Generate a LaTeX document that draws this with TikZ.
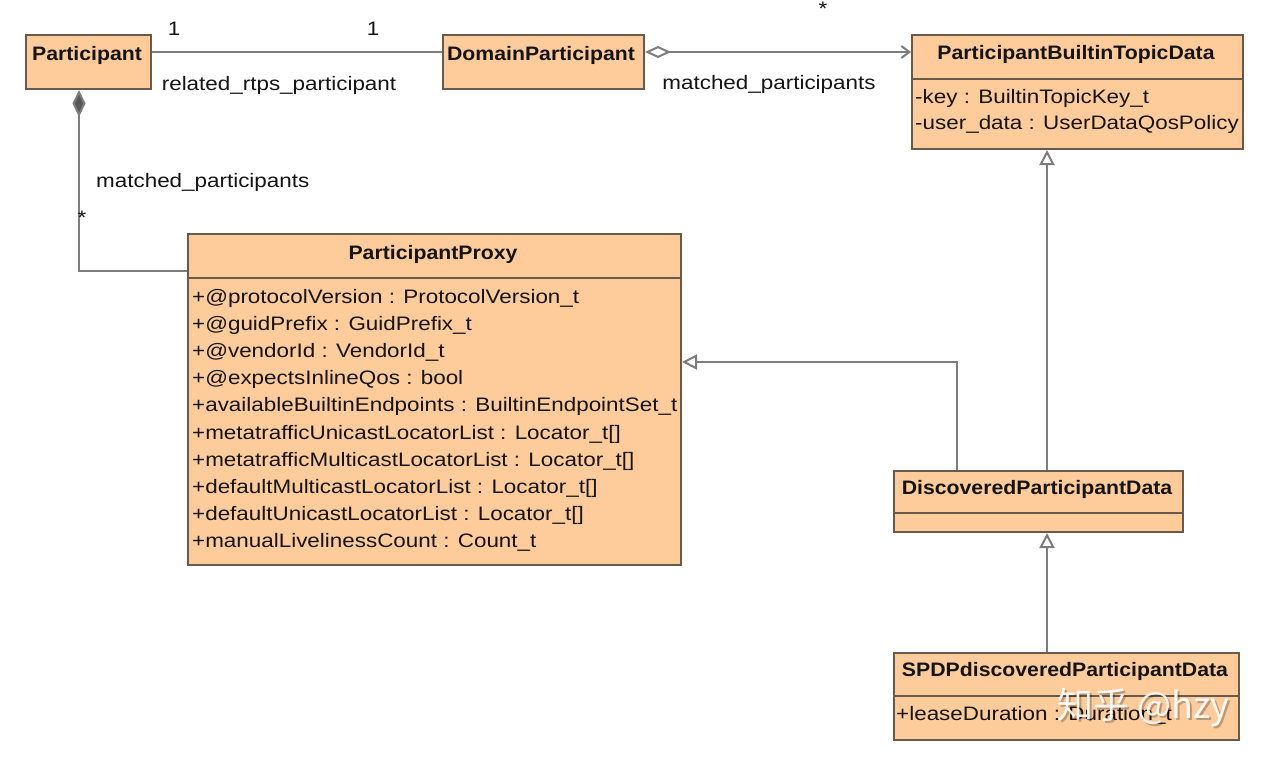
\documentclass[tikz,border=0pt]{standalone}
\usepackage{fontspec}
\setmainfont{Liberation Sans}[FakeStretch=1.15, BoldFeatures={FakeStretch=1.09}]
\newfontfamily\cjk{Noto Sans CJK SC}
\usetikzlibrary{arrows.meta}
\definecolor{peach}{RGB}{254,204,154}
\definecolor{boxline}{RGB}{105,90,78}
\definecolor{linegray}{RGB}{125,125,125}
\definecolor{txt}{RGB}{20,20,20}
\begin{document}
\begin{tikzpicture}[x=1pt,y=-1pt,
  cls/.style={draw=boxline, fill=peach, line width=2pt, inner sep=0pt, anchor=north west},
  sep/.style={draw=boxline, line width=1.2pt},
  ttl/.style={font=\fontsize{19.5}{22}\selectfont\bfseries, text=txt, inner sep=0pt, anchor=base},
  attr/.style={font=\fontsize{19.5}{22}\selectfont, text=txt, inner sep=0pt, anchor=base west},
  lbl/.style={font=\fontsize{19.5}{22}\selectfont, text=txt, inner sep=0pt, anchor=base},
  conn/.style={draw=linegray, line width=2pt}]
\fill[white] (0,0) rectangle (1277,761);
\useasboundingbox (0,0) rectangle (1277,761);

% classes
\node[cls, minimum width=125pt, minimum height=54pt] (part) at (25,34) {};
\node[ttl] (partT) at (87,60) {Participant};

\node[cls, minimum width=201pt, minimum height=54pt] (dp) at (442,34) {};
\node[ttl] (dpT) at (541,60) {DomainParticipant};

\node[cls, minimum width=331pt, minimum height=114pt] (pbt) at (911,34) {};
\node[ttl] (pbtT) at (1076,59) {ParticipantBuiltinTopicData};
\draw[sep] (911,79) -- (1242,79);
\node[attr] (pbtA1) at (915,103) {-key : BuiltinTopicKey\_t};
\node[attr] (pbtA2) at (915,129) {-user\_data : UserDataQosPolicy};

\node[cls, minimum width=493pt, minimum height=331pt] (pp) at (187,233) {};
\node[ttl] (ppT) at (433,259) {ParticipantProxy};
\draw[sep] (187,278) -- (680,278);
\foreach \t [count=\i from 0] in {
  {+@protocolVersion : ProtocolVersion\_t},
  {+@guidPrefix : GuidPrefix\_t},
  {+@vendorId : VendorId\_t},
  {+@expectsInlineQos : bool},
  {+availableBuiltinEndpoints : BuiltinEndpointSet\_t},
  {+metatrafficUnicastLocatorList : Locator\_t[]},
  {+metatrafficMulticastLocatorList : Locator\_t[]},
  {+defaultMulticastLocatorList : Locator\_t[]},
  {+defaultUnicastLocatorList : Locator\_t[]},
  {+manualLivelinessCount : Count\_t}}
  \node[attr] (ppA\i) at (192,303+27.2*\i) {\t};

\node[cls, minimum width=289pt, minimum height=61pt] (dpd) at (893,470) {};
\node[ttl] (dpdT) at (1037,494) {DiscoveredParticipantData};
\draw[sep] (893,513) -- (1182,513);

\node[cls, minimum width=345pt, minimum height=87pt] (spdp) at (893,652) {};
\node[ttl] (spdpT) at (1065,676) {SPDPdiscoveredParticipantData};
\draw[sep] (893,696) -- (1238,696);
\node[attr] (spdpA) at (896,720) {+leaseDuration : Duration\_t};

% connectors
\draw[conn] ([yshift=-18pt]part.north east) -- ([yshift=-18pt]dp.north west);
\node[lbl] (m1) at (174,35) {1};
\node[lbl] (m2) at (373,35) {1};
\node[lbl] (rel) at (279,90) {related\_rtps\_participant};

\draw[conn, {Diamond[open, fill=white, length=26pt, width=12pt]}-{Straight Barb[length=8pt, width=12pt]}]
  ([yshift=-18pt]dp.north east) -- ([yshift=-18pt]pbt.north west);
\node[lbl] (mp1) at (769,89) {matched\_participants};
\node[lbl] (st1) at (823,15) {*};

\draw[conn, {Diamond[fill=linegray!70!black, length=27pt, width=13pt]}-]
  ([xshift=54pt]part.south west) |- ([yshift=-38pt]pp.north west);
\node[lbl, anchor=base west] (mp2) at (96,187) {matched\_participants};
\node[lbl] (st2) at (82,224) {*};

\draw[conn, -{Triangle[open, fill=white, length=15pt, width=15pt]}]
  ([xshift=64pt]dpd.north west) |- ([yshift=-129pt]pp.north east);
\draw[conn, -{Triangle[open, fill=white, length=15pt, width=15pt]}]
  ([xshift=154pt]dpd.north west) -- ([xshift=154pt]dpd.north west |- pbt.south);
\draw[conn, -{Triangle[open, fill=white, length=15pt, width=15pt]}]
  ([xshift=154pt]spdp.north west) -- ([xshift=154pt]spdp.north west |- dpd.south);

% watermark
\node[inner sep=0pt, anchor=base west, text=black, opacity=0.25, font=\cjk\fontsize{36}{40}\selectfont] (wm0) at (1059,720) {知乎 @hzy};
\node[inner sep=0pt, anchor=base west, text=white, opacity=0.9, font=\cjk\fontsize{36}{40}\selectfont] (wm) at (1057,718) {知乎 @hzy};
\end{tikzpicture}
\end{document}
